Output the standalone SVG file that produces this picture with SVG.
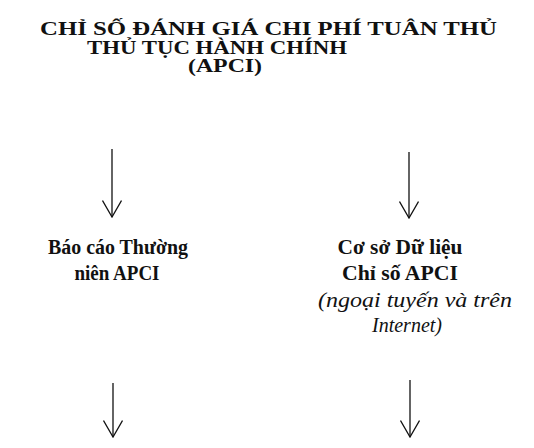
<svg xmlns="http://www.w3.org/2000/svg" width="534" height="448" viewBox="0 0 534 448">
<style>
.t{font-family:"Liberation Serif","Times New Roman",serif;font-weight:bold;font-size:19px;fill:#111;}
.l{font-family:"Liberation Serif","Times New Roman",serif;font-weight:bold;font-size:20px;fill:#111;text-anchor:middle;}
.i{font-family:"Liberation Serif","Times New Roman",serif;font-style:italic;font-size:20px;fill:#111;text-anchor:middle;}
.c{stroke:#111;stroke-width:1.3;fill:none;}
</style>
<defs>
<marker id="ah" viewBox="0 0 18 20" refX="17" refY="10" markerWidth="18" markerHeight="20" markerUnits="userSpaceOnUse" orient="auto">
<path d="M0.5,0.5 L17,10 L0.5,19.5" fill="none" stroke="#111" stroke-width="1.3"/>
</marker>
</defs>
<g id="title">
<text class="t" x="40" y="35" textLength="457" lengthAdjust="spacingAndGlyphs">CHỈ SỐ ĐÁNH GIÁ CHI PHÍ TUÂN THỦ</text>
<text class="t" x="87" y="54" textLength="260" lengthAdjust="spacingAndGlyphs">THỦ TỤC HÀNH CHÍNH</text>
<text class="t" x="188" y="72" textLength="74" lengthAdjust="spacingAndGlyphs">(APCI)</text>
</g>
<g id="report">
<text class="l" x="118" y="254" textLength="140" lengthAdjust="spacingAndGlyphs">Báo cáo Thường</text>
<text class="l" x="117" y="280" textLength="85" lengthAdjust="spacingAndGlyphs">niên APCI</text>
</g>
<g id="database">
<text class="l" x="400" y="254" textLength="125" lengthAdjust="spacingAndGlyphs">Cơ sở Dữ liệu</text>
<text class="l" x="400" y="280" textLength="116" lengthAdjust="spacingAndGlyphs">Chỉ số APCI</text>
<text class="i" x="415" y="307" textLength="194" lengthAdjust="spacingAndGlyphs">(ngoại tuyến và trên</text>
<text class="i" x="407" y="332" textLength="70" lengthAdjust="spacingAndGlyphs">Internet)</text>
</g>
<g id="connectors">
<line class="c" x1="112" y1="149" x2="112" y2="217" marker-end="url(#ah)"/>
<line class="c" x1="409" y1="152" x2="409" y2="218" marker-end="url(#ah)"/>
<line class="c" x1="113" y1="383" x2="113" y2="437" marker-end="url(#ah)"/>
<line class="c" x1="410" y1="380" x2="410" y2="437" marker-end="url(#ah)"/>
</g>
</svg>
